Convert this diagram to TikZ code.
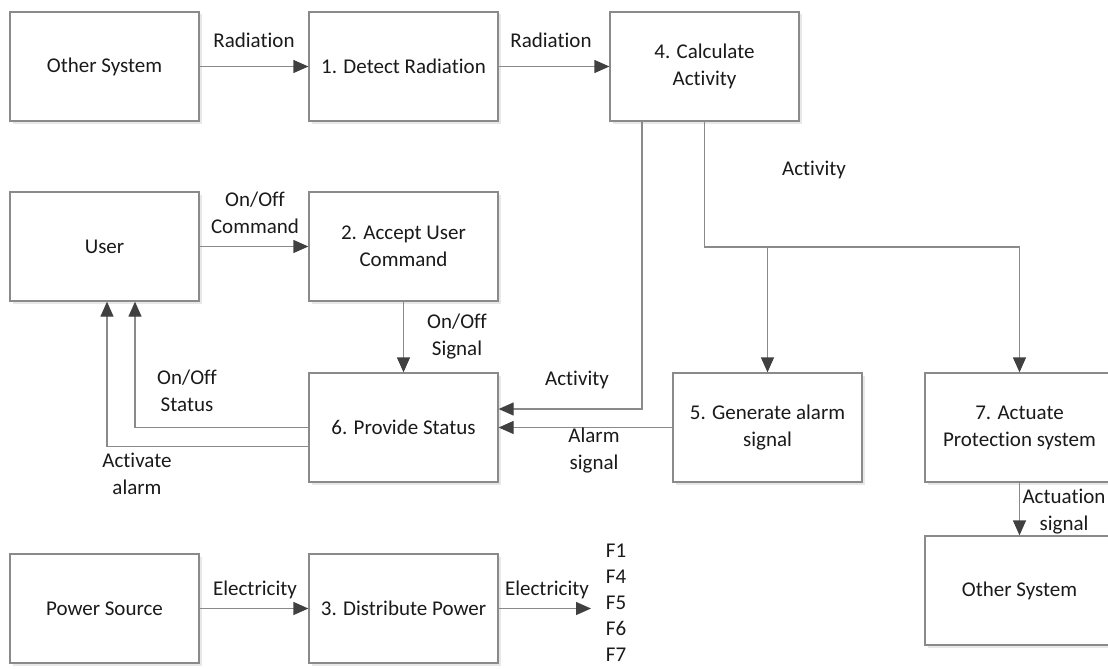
\documentclass[tikz,border=0pt]{standalone}
\usepackage{fontspec}
\setmainfont{Carlito}[Ligatures={NoCommon}]
\usetikzlibrary{arrows.meta,shadows,calc}

\definecolor{edgegray}{HTML}{8A8A8A}
\definecolor{tipgray}{HTML}{404040}
\definecolor{inkgray}{HTML}{1A1A1A}

\tikzset{
  fnbox/.style={draw=edgegray, line width=1.3pt, fill=white,
    minimum width=189pt, minimum height=109pt, inner sep=2pt,
    align=center, text=inkgray,
    drop shadow={shadow xshift=2.5pt, shadow yshift=-2.5pt, fill=black!9, opacity=1}},
  flow/.style={draw=edgegray, line width=1.3pt,
    -{Triangle[length=15pt,width=13pt,color=tipgray]}},
  wire/.style={draw=edgegray, line width=1.3pt},
  lbl/.style={align=center, text=inkgray, inner sep=1pt}
}

\begin{document}
\begin{tikzpicture}[x=1pt,y=-1pt,font=\fontsize{21}{27}\selectfont]
\useasboundingbox (0,0) rectangle (1108,669);

% function blocks and external systems
\node[fnbox] (os1) at (104.5,66.5) {Other System};
\node[fnbox] (d1)  at (403.5,66.5) {1. Detect Radiation};
\node[fnbox] (c4)  at (704.5,66.5) {4. Calculate\\Activity};
\node[fnbox] (usr) at (104.5,246.5) {User};
\node[fnbox] (a2)  at (403.5,246.5) {2. Accept User\\Command};
\node[fnbox] (p6)  at (403.5,427.5) {6. Provide Status};
\node[fnbox] (g5)  at (767.5,427.5) {5. Generate alarm\\signal};
\node[fnbox] (a7)  at (1019.5,427.5) {7. Actuate\\Protection system};
\node[fnbox] (os2) at (1019.5,590.5) {Other System};
\node[fnbox] (ps)  at (104.5,608.5) {Power Source};
\node[fnbox] (d3)  at (403.5,608.5) {3. Distribute Power};

% functions fed with electricity
\node[lbl, font=\fontsize{21}{26}\selectfont] (flist) at (616,603) {F1\\F4\\F5\\F6\\F7};

% bend points
\coordinate (elec) at (591,608.5);
\coordinate (actL) at (642,409);
\coordinate (br)   at (704.5,247);
\coordinate (stX)  at (135,0);
\coordinate (alX)  at (107,0);

% flows
\draw[flow] (os1) -- (d1);
\draw[flow] (d1) -- (c4);
\draw[flow] (usr) -- (a2);
\draw[flow] (a2) -- (p6);
\draw[flow] (ps) -- (d3);
\draw[flow] (d3.east) -- (elec);
\draw[flow] (a7) -- (os2);
\draw[flow] (g5.west) -- (p6.east);
\draw[flow] (c4.south -| actL) -- (actL) -- (actL -| p6.east);
\draw[wire] (c4.south) -- (br) -- (br -| a7.north);
\draw[flow] (br -| a7.north) -- (a7.north);
\draw[flow] (br -| g5.north) -- (g5.north);
\draw[flow] (p6.west) -| (usr.south -| stX);
\draw[flow] ($(p6.west)+(0,19)$) -| (usr.south -| alX);

% flow labels
\node[lbl] (l1)  at (254,40)   {Radiation};
\node[lbl] (l2)  at (551,40)   {Radiation};
\node[lbl] (l3)  at (814,170)  {Activity};
\node[lbl] (l4)  at (255,213)  {On/Off\\Command};
\node[lbl] (l5)  at (457,337)  {On/Off\\Signal};
\node[lbl] (l6)  at (187,391)  {On/Off\\Status};
\node[lbl] (l7)  at (137,474)  {Activate\\alarm};
\node[lbl] (l8)  at (577,380)  {Activity};
\node[lbl] (l9)  at (594,451)  {Alarm\\signal};
\node[lbl] (l10) at (1064,512) {Actuation\\signal};
\node[lbl] (l11) at (255,590)  {Electricity};
\node[lbl] (l12) at (547,590)  {Electricity};
\end{tikzpicture}
\end{document}
